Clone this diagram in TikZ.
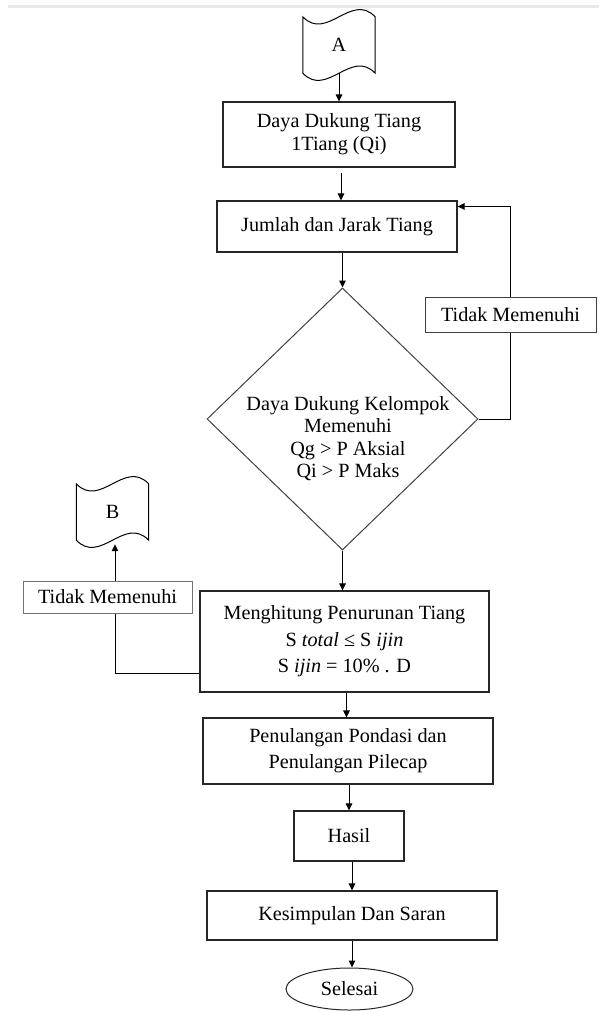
\documentclass[tikz,border=0pt]{standalone}
\usepackage{fontspec}
\setmainfont{Liberation Serif}
\usetikzlibrary{arrows.meta,shapes.geometric}
\newcommand\flowfs{\fontsize{20.2}{23}\selectfont}
\newcommand\drawflag[1]{\draw[line width=1pt] (#1.north west) .. controls +(24,25) and +(-24,-25) .. (#1.north east) -- (#1.south east) .. controls +(-24,-25) and +(24,25) .. (#1.south west) -- cycle;}
\begin{document}
\begin{tikzpicture}[x=1pt,y=-1pt,
  box/.style={draw=black!85, line width=1.1pt, inner sep=0pt, align=center, font=\flowfs},
  tmbox/.style={draw=black!75, line width=1pt, fill=white, inner sep=0pt, align=center, font=\flowfs},
  flagbox/.style={inner sep=0pt, minimum width=72pt, minimum height=56pt, font=\flowfs},
  arr/.style={line width=1pt, -{Triangle[length=7pt,width=6.5pt]}},
  conn/.style={line width=1pt}]
\useasboundingbox (0,0) rectangle (599,1012);
\fill[gray!18] (8,5) rectangle (599,8);

\node[flagbox] (A) at (339,45) {A};
\drawflag{A}
\node[box, minimum width=232pt, minimum height=65pt] (b1) at (339,134.5) {Daya Dukung Tiang\\1Tiang (Qi)};
\node[box, minimum width=240pt, minimum height=51pt] (b2) at (337,226.5) {Jumlah dan Jarak Tiang};
\node[draw=black!75, line width=1pt, shape=diamond, inner sep=0pt, minimum width=271pt, minimum height=262pt] (d) at (342.5,419) {};
\node[align=center, inner sep=0pt, font=\fontsize{20.2}{22.3}\selectfont] (dt) at (348,438.5) {Daya Dukung Kelompok\\Memenuhi\\Qg > P Aksial\\Qi > P Maks};
\node[tmbox, minimum width=171pt, minimum height=35pt] (tm1) at (510.5,314.5) {Tidak Memenuhi};
\node[box, minimum width=289pt, minimum height=101pt, font=\fontsize{20.2}{26.5}\selectfont] (b3) at (344.5,641.5) {Menghitung Penurunan Tiang\\S \textit{total} ≤ S \textit{ijin}\\S \textit{ijin} = 10\% . D};
\node[tmbox, draw=black!55, minimum width=169pt, minimum height=32pt] (tm2) at (107.5,597) {Tidak Memenuhi};
\node[flagbox] (B) at (112.5,512) {B};
\drawflag{B}
\node[box, minimum width=290pt, minimum height=66pt, font=\fontsize{20.2}{26}\selectfont] (b4) at (348,751) {Penulangan Pondasi dan\\Penulangan Pilecap};
\node[box, minimum width=110pt, minimum height=50pt] (hasil) at (349,836) {Hasil};
\node[box, minimum width=290pt, minimum height=49pt] (kes) at (352,915.5) {Kesimpulan Dan Saran};
\node[draw=black!85, line width=1pt, shape=ellipse, inner sep=0pt, minimum width=127pt, minimum height=42pt, font=\flowfs] (sel) at (349.5,989) {Selesai};

\coordinate (in2) at ([yshift=-6pt]b2.north east);
\coordinate (out3) at ([yshift=-31.5pt]b3.west);

\draw[arr] (A.south) -- (A.south |- b1.north);
\draw[arr, shorten <=5pt] ([xshift=2pt]b1.south) -- ([xshift=2pt]b1.south |- b2.north);
\draw[arr] (d.north |- b2.south) -- (d.north);
\draw[conn] (d.east) -| (tm1.south);
\draw[arr] (tm1.north) |- (in2);
\draw[arr] (d.south) -- (d.south |- b3.north);
\draw[conn] (out3) -| ([xshift=7.5pt]tm2.south);
\draw[arr] ([xshift=7.5pt]tm2.north) -- ([xshift=7.5pt,yshift=-4pt]tm2.north |- B.south);
\draw[arr] ([xshift=2pt]b3.south) -- ([xshift=2pt]b3.south |- b4.north);
\draw[arr] (hasil.north |- b4.south) -- (hasil.north);
\draw[arr] (kes.north |- hasil.south) -- (kes.north);
\draw[arr] (kes.south) -- (kes.south |- sel.north);
\end{tikzpicture}
\end{document}
